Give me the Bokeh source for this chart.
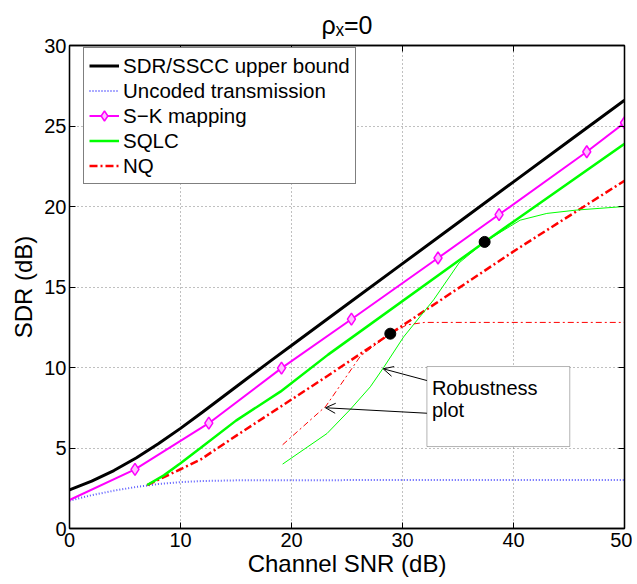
from bokeh.plotting import figure
from bokeh.models import (Range1d, LinearAxis, FixedTicker, Legend, LegendItem,
                          Label, Arrow, OpenHead, BoxAnnotation, CustomLabelingPolicy)
from bokeh.embed import file_html
from bokeh.resources import INLINE

# ---------------- data ----------------
bound_snr = [0, 2, 4, 6, 8, 10, 12, 14, 16, 18, 20, 25, 30, 35, 40, 45, 50]
bound_sdr = [2.4, 2.94, 3.6, 4.38, 5.26, 6.22, 7.24, 8.28, 9.32, 10.35, 11.37, 13.91, 16.45, 18.99, 21.53, 24.07, 26.6]

uncoded_snr = [0, 2, 4, 6, 8, 10, 12, 15, 20, 30, 40, 50]
uncoded_sdr = [1.73, 2.07, 2.35, 2.58, 2.76, 2.88, 2.95, 2.99, 3.0, 3.01, 3.02, 3.02]

sk_snr = [0, 5.9, 12.55, 19.1, 25.4, 33.2, 38.7, 46.6, 50]
sk_sdr = [1.77, 3.67, 6.54, 9.96, 13.0, 16.8, 19.5, 23.4, 25.2]
sk_mark_snr = [5.9, 12.55, 19.1, 25.4, 33.2, 38.7, 46.6, 50]
sk_mark_sdr = [3.67, 6.54, 9.96, 13.0, 16.8, 19.5, 23.4, 25.2]

sqlc_snr = [7.0, 8.5, 10, 11.8, 15, 19.0, 23.3, 37.4, 50]
sqlc_sdr = [2.7, 3.3, 4.05, 5.0, 6.7, 8.5, 10.8, 17.8, 23.9]

nq_snr = [7.0, 10, 11.8, 15.1, 23.3, 28.9, 40.2, 50]
nq_sdr = [2.7, 3.68, 4.28, 5.8, 9.5, 12.1, 17.3, 21.6]

rob_sqlc_snr = [19.2, 23.2, 25.3, 27.1, 28.3, 30.1, 32.8, 35.1, 37.4, 40.6, 43.0, 45.7, 50]
rob_sqlc_sdr = [4.0, 5.9, 7.4, 8.8, 10.0, 11.9, 14.2, 16.5, 17.8, 19.15, 19.57, 19.78, 20.0]

rob_nq_snr = [19.2, 23.1, 26.2, 28.9, 30.4, 32.0, 50]
rob_nq_sdr = [5.2, 7.6, 10.7, 12.1, 12.65, 12.8, 12.8]

design_snr = [28.9, 37.4]
design_sdr = [12.1, 17.8]

x_ticks = [0, 10, 20, 30, 40, 50]
y_ticks = [0, 5, 10, 15, 20, 25, 30]

# annotation (data coordinates)
box_left, box_right, box_bottom, box_top = 32.2, 45.07, 5.09, 10.06
arrow_x_start = [32.2, 32.2]
arrow_y_start = [9.19, 7.16]
arrow_x_end = [28.26, 23.06]
arrow_y_end = [9.92, 7.5]

FONT = "Liberation Sans"

p = figure(width=632, height=584, x_range=Range1d(0, 50), y_range=Range1d(0, 30),
           output_backend="svg", toolbar_location=None,
           min_border_left=69, min_border_right=8, min_border_top=45, min_border_bottom=56)
p.background_fill_color = "white"
p.border_fill_color = "white"
p.outline_line_color = "black"
p.outline_line_width = 1.3

# title  rho_x = 0
p.title.text = "\u03c1\u2093=0"
p.title.align = "center"
p.title.text_font = FONT
p.title.text_font_size = "25px"
p.title.text_font_style = "normal"
p.title.text_color = "black"
p.title.standoff = 5

# axes
p.xaxis.ticker = FixedTicker(ticks=x_ticks)
p.yaxis.ticker = FixedTicker(ticks=y_ticks)
for ax in (p.xaxis[0], p.yaxis[0]):
    ax.major_tick_in = 6
    ax.major_tick_out = 0
    ax.minor_tick_line_color = None
    ax.axis_line_color = "black"
    ax.axis_line_width = 1.3
    ax.major_tick_line_color = "black"
    ax.major_label_text_font = FONT
    ax.major_label_text_font_size = "20px"
    ax.major_label_text_color = "black"
    ax.axis_label_text_font = FONT
    ax.axis_label_text_font_size = "24px"
    ax.axis_label_text_font_style = "normal"
    ax.axis_label_text_color = "black"
p.xaxis.axis_label = "Channel SNR (dB)"
p.yaxis.axis_label = "SDR (dB)"
p.xaxis.major_label_standoff = 4
p.xaxis.axis_label_standoff = 0
p.yaxis.major_label_standoff = 3
p.yaxis.axis_label_standoff = 4

no_labels = CustomLabelingPolicy(code="return []")
for side, tk in (("above", x_ticks), ("right", y_ticks)):
    ax = LinearAxis(ticker=FixedTicker(ticks=tk), major_tick_in=6, major_tick_out=0,
                    minor_tick_line_color=None, major_label_text_font_size="1px",
                    major_label_policy=no_labels, axis_line_width=1.3,
                    major_label_standoff=0, axis_line_color="black")
    p.add_layout(ax, side)

# grid
for g in (p.xgrid[0], p.ygrid[0]):
    g.grid_line_color = "#808080"
    g.grid_line_dash = "1 3"
    g.grid_line_width = 1
p.xgrid.ticker = FixedTicker(ticks=x_ticks)
p.ygrid.ticker = FixedTicker(ticks=y_ticks)

# lines
r_unc = p.line(uncoded_snr, uncoded_sdr, line_color="#5a5aff", line_width=2, line_dash="1 2")
r_bound = p.line(bound_snr, bound_sdr, line_color="black", line_width=3)
r_nq = p.line(nq_snr, nq_sdr, line_color="#ff0000", line_width=2.5, line_dash="8 3 2 3")
r_sqlc = p.line(sqlc_snr, sqlc_sdr, line_color="#00ff00", line_width=2.5)
r_rob_sqlc = p.line(rob_sqlc_snr, rob_sqlc_sdr, line_color="#00ff00", line_width=1)
r_rob_nq = p.line(rob_nq_snr, rob_nq_sdr, line_color="#ff0000", line_width=1, line_dash="6 3 2 3")
r_sk = p.line(sk_snr, sk_sdr, line_color="#ff00ff", line_width=2)
r_skm = p.scatter(sk_mark_snr, sk_mark_sdr, marker="diamond", size=12,
                  line_color="#ff00ff", fill_color="#ffc0ff", line_width=1.5)
p.scatter(design_snr, design_sdr, marker="circle", size=11, color="black")

# legend
legend = Legend(items=[
    LegendItem(label="SDR/SSCC upper bound", renderers=[r_bound]),
    LegendItem(label="Uncoded transmission", renderers=[r_unc]),
    LegendItem(label="S\u2212K mapping", renderers=[r_sk, r_skm]),
    LegendItem(label="SQLC", renderers=[r_sqlc]),
    LegendItem(label="NQ", renderers=[r_nq]),
], location=(14, 344))
legend.label_text_font = FONT
legend.label_text_font_size = "20.5px"
legend.label_text_color = "black"
legend.label_height = 25
legend.glyph_height = 25
legend.glyph_width = 30
legend.label_standoff = 4
legend.spacing = 0
legend.padding = 5
legend.margin = 0
legend.border_line_color = "black"
legend.border_line_width = 1.3
legend.background_fill_color = "white"
legend.background_fill_alpha = 1
p.add_layout(legend)

# robustness annotation
p.add_layout(BoxAnnotation(left=box_left, right=box_right, bottom=box_bottom, top=box_top,
                           fill_color="white", fill_alpha=1, line_color="black", line_width=1))
for xs, ys, xe, ye in zip(arrow_x_start, arrow_y_start, arrow_x_end, arrow_y_end):
    p.add_layout(Arrow(end=OpenHead(size=10, line_width=1, line_color="black"),
                       x_start=xs, y_start=ys, x_end=xe, y_end=ye,
                       line_width=1, line_color="black"))
p.add_layout(Label(x=32.65, y=8.75, text="Robustness", text_font=FONT, text_font_size="20px",
                   text_color="black", text_baseline="alphabetic"))
p.add_layout(Label(x=32.65, y=7.35, text="plot", text_font=FONT, text_font_size="20px",
                   text_color="black", text_baseline="alphabetic"))

open("out.html", "w").write(file_html(p, INLINE))
